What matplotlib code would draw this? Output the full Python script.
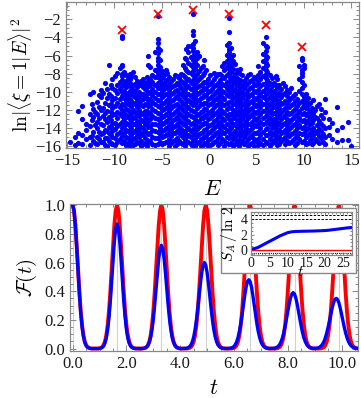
import numpy as np
import matplotlib
matplotlib.use('Agg')
import matplotlib.pyplot as plt
from matplotlib.patches import Rectangle
from matplotlib.ticker import MultipleLocator, FormatStrFormatter

plt.rcParams['font.family'] = ['Liberation Serif', 'DejaVu Serif']
plt.rcParams['mathtext.fontset'] = 'cm'

# ---- top panel: overlaps ln|<xi=1|E>|^2 vs E, one column of dots per energy strip
cloud_cols = [
    (-14.7, [-15.5]),
    (-14.2, [-15.9, -15.0]),
    (-13.8, [-12.1, -14.5, -15.6]),
    (-13.4, [-11.6, -13.0, -14.8, -15.8]),
    (-13.0, [-13.5, -14.2, -15.2]),
    (-12.6, [-10.2, -12.4, -13.8, -15.0, -15.9]),
    (-12.2, [-10.0, -11.9, -12.8, -14.4, -15.4]),
    (-11.8, [-11.1, -12.5, -13.3, -14.0, -15.0, -15.8]),
    (-11.4, [-9.8, -10.6, -12.0, -13.6, -14.7, -15.5]),
    (-11.0, [-9.0, -11.2, -12.3, -13.0, -14.2, -15.1, -15.9]),
    (-10.6, [-7.0, -10.2, -11.5, -12.8, -13.9, -14.6, -15.4]),
    (-10.2, [-8.6, -9.6, -10.9, -11.8, -12.6, -13.5, -14.3, -15.0, -15.8]),
    (-9.7, [-7.9, -9.2, -10.1, -11.2, -12.2, -12.9, -13.8, -14.7, -15.5]),
    (-9.2, [-3.8, -4.1, -7.0, -7.2, -8.0, -8.3, -8.7, -9.4, -10.0, -10.5, -11.4,
            -12.0, -12.7, -13.3, -14.0, -14.9, -15.7]),
    (-8.8, [-8.2, -8.8, -9.5, -10.3, -11.0, -11.9, -12.6, -13.4, -14.2, -15.0, -15.9]),
    (-8.4, [-8.0, -8.6, -9.0, -9.9, -10.8, -11.5, -12.2, -13.0, -13.8, -14.5, -15.3, -16.0]),
    (-8.0, [-7.8, -9.2, -9.8, -10.4, -11.2, -12.0, -12.9, -13.6, -14.4, -15.2, -15.9]),
    (-7.6, [-8.8, -9.5, -10.1, -10.9, -11.7, -12.4, -13.2, -14.0, -14.8, -15.5]),
    (-7.2, [-8.8, -9.3, -10.2, -10.9, -11.5, -12.3, -13.1, -13.9, -14.6, -15.4, -16.0]),
    (-6.8, [-9.0, -9.7, -10.5, -11.3, -12.1, -12.8, -13.6, -14.3, -15.1, -15.8]),
    (-6.4, [-6.0, -7.0, -8.8, -9.4, -10.1, -10.9, -11.6, -12.4, -13.2, -13.9, -14.7, -15.5]),
    (-6.0, [-8.2, -8.9, -9.7, -10.4, -11.1, -11.9, -12.7, -13.5, -14.2, -15.0, -15.8]),
    (-5.45, [-1.6, -4.2, -4.6, -5.2, -5.7, -6.3, -6.6, -7.0, -7.5, -7.9, -8.4, -9.0, -9.6,
             -10.2, -10.9, -11.6, -12.3, -13.0, -13.7, -14.4, -15.1, -15.8]),
    (-5.0, [-7.7, -8.5, -9.2, -9.9, -10.6, -11.3, -12.0, -12.8, -13.5, -14.3, -15.0, -15.8]),
    (-4.6, [-7.6, -8.7, -9.5, -10.3, -11.0, -11.8, -12.5, -13.2, -14.0, -14.8, -15.5]),
    (-4.2, [-8.4, -9.1, -9.8, -10.6, -11.4, -12.1, -12.9, -13.7, -14.4, -15.2, -16.0]),
    (-3.8, [-8.6, -9.4, -10.1, -10.9, -11.6, -12.4, -13.1, -13.9, -14.6, -15.4]),
    (-3.4, [-8.3, -9.0, -9.8, -10.5, -11.3, -12.0, -12.8, -13.5, -14.3, -15.1, -15.8]),
    (-3.0, [-8.0, -8.8, -9.6, -10.3, -11.0, -11.8, -12.6, -13.3, -14.1, -14.8, -15.6]),
    (-2.6, [-6.3, -7.4, -8.4, -9.2, -10.0, -10.7, -11.5, -12.2, -13.0, -13.7, -14.5, -15.3, -16.0]),
    (-2.2, [-5.0, -5.6, -6.8, -7.8, -8.6, -9.4, -10.2, -10.9, -11.7, -12.5, -13.2, -14.0,
            -14.8, -15.5]),
    (-1.72, [-1.4, -3.3, -3.7, -4.7, -5.2, -5.5, -6.0, -6.5, -7.0, -7.3, -7.7, -8.2, -8.7,
             -9.1, -9.7, -10.3, -10.9, -11.5, -12.1, -12.8, -13.4, -14.1, -14.8, -15.4, -16.0]),
    (-1.3, [-5.6, -6.3, -7.1, -8.0, -8.8, -9.5, -10.3, -11.0, -11.8, -12.6, -13.3, -14.1,
            -14.9, -15.6]),
    (-0.9, [-7.4, -8.4, -9.2, -9.9, -10.7, -11.4, -12.2, -12.9, -13.7, -14.5, -15.2, -16.0]),
    (-0.5, [-6.5, -7.9, -8.9, -9.6, -10.4, -11.2, -11.9, -12.7, -13.4, -14.2, -15.0, -15.7]),
    (-0.1, [-8.6, -9.3, -10.0, -10.8, -11.5, -12.3, -13.0, -13.8, -14.6, -15.3, -16.0]),
    (0.3, [-8.9, -9.7, -10.5, -11.2, -12.0, -12.7, -13.5, -14.2, -15.0, -15.8]),
    (0.7, [-8.3, -9.2, -10.0, -10.8, -11.5, -12.3, -13.1, -13.8, -14.6, -15.4]),
    (1.1, [-8.0, -8.7, -9.5, -10.3, -11.0, -11.8, -12.5, -13.3, -14.0, -14.8, -15.6]),
    (1.6, [-6.8, -7.6, -8.5, -9.2, -10.0, -10.8, -11.5, -12.3, -13.1, -13.9, -14.6, -15.4, -16.0]),
    (2.14, [-1.9, -3.4, -4.6, -5.3, -5.6, -5.9, -6.3, -6.8, -7.1, -7.5, -7.9, -8.3, -8.8,
            -9.3, -9.9, -10.5, -11.1, -11.7, -12.4, -13.0, -13.7, -14.4, -15.1, -15.8]),
    (2.5, [-5.9, -6.6, -7.5, -8.4, -9.1, -9.9, -10.7, -11.4, -12.2, -12.9, -13.7, -14.5,
           -15.2, -16.0]),
    (2.9, [-7.6, -8.5, -9.3, -10.1, -10.9, -11.6, -12.4, -13.1, -13.9, -14.7, -15.4]),
    (3.3, [-7.5, -8.7, -9.5, -10.3, -11.1, -11.9, -12.6, -13.4, -14.1, -14.9, -15.7]),
    (3.7, [-8.8, -9.6, -10.4, -11.2, -12.0, -12.7, -13.5, -14.3, -15.0, -15.8]),
    (4.1, [-8.2, -9.0, -9.8, -10.6, -11.4, -12.1, -12.9, -13.6, -14.4, -15.2, -16.0]),
    (4.5, [-8.7, -9.5, -10.2, -11.0, -11.8, -12.5, -13.3, -14.0, -14.8, -15.6]),
    (4.9, [-8.6, -9.3, -10.0, -10.8, -11.6, -12.3, -13.1, -13.8, -14.6, -15.4]),
    (5.4, [-7.8, -8.6, -9.4, -10.2, -11.0, -11.7, -12.5, -13.3, -14.0, -14.8, -15.6]),
    (5.94, [-4.0, -4.9, -5.5, -6.0, -6.4, -6.8, -7.2, -7.6, -8.0, -8.5, -9.0, -9.6, -10.2,
            -10.8, -11.4, -12.0, -12.7, -13.4, -14.1, -14.8, -15.5]),
    (6.4, [-8.2, -9.0, -9.8, -10.6, -11.3, -12.1, -12.9, -13.6, -14.4, -15.2, -16.0]),
    (6.8, [-9.0, -9.9, -10.7, -11.5, -12.3, -13.0, -13.8, -14.5, -15.3]),
    (7.2, [-8.6, -9.6, -10.5, -11.3, -12.1, -12.9, -13.7, -14.4, -15.2, -15.9]),
    (7.6, [-9.7, -10.6, -11.4, -12.2, -13.0, -13.8, -14.6, -15.4]),
    (8.0, [-9.4, -10.1, -11.0, -11.8, -12.6, -13.4, -14.2, -15.0, -15.8]),
    (8.4, [-10.0, -10.9, -11.7, -12.5, -13.3, -14.1, -14.9, -15.6]),
    (8.8, [-10.5, -11.3, -12.1, -12.9, -13.7, -14.5, -15.3]),
    (9.25, [-10.8, -11.6, -12.4, -13.2, -14.0, -14.8, -15.6]),
    (9.74, [-6.3, -6.5, -7.6, -7.9, -8.3, -8.9, -9.6, -10.3, -11.0, -11.8, -12.5, -13.2,
            -14.0, -14.7, -15.5]),
    (10.2, [-10.2, -11.0, -11.8, -12.6, -13.4, -14.2, -15.0, -15.8]),
    (10.6, [-11.2, -12.0, -12.8, -13.6, -14.5, -15.3]),
    (11.0, [-10.9, -12.3, -13.1, -14.0, -14.8, -15.6]),
    (11.4, [-11.6, -12.9, -13.7, -14.6, -15.4]),
    (11.8, [-11.9, -12.6, -13.5, -14.3, -15.1]),
    (12.2, [-10.8, -12.2, -14.0, -15.0, -15.8]),
    (12.6, [-13.0, -13.9, -14.8]),
    (13.0, [-13.4, -15.2]),
    (13.5, [-11.7, -14.2, -15.5]),
    (14.0, [-13.9, -15.3]),
    (14.6, [-13.3, -15.3]),
    (15.0, [-16.0]),
]
# second, interleaved set of strips (fills the dense middle of the cloud)
cloud_cols_mid = [
    (-12.4, [-11.3, -13.1, -14.9]),
    (-12.0, [-12.2, -13.7, -15.6]),
    (-11.6, [-10.4, -11.7, -12.9, -14.4, -15.2]),
    (-11.2, [-10.1, -11.8, -12.7, -13.7, -14.6, -15.5]),
    (-10.8, [-9.7, -10.7, -12.1, -13.3, -14.3, -15.1, -16.0]),
    (-10.4, [-9.2, -10.5, -11.3, -12.2, -13.1, -13.9, -14.8, -15.6]),
    (-9.95, [-8.3, -9.8, -10.7, -11.6, -12.5, -13.4, -14.1, -15.1, -15.9]),
    (-9.45, [-7.4, -8.9, -9.7, -10.8, -11.7, -12.4, -13.6, -14.4, -15.2]),
    (-9.0, [-7.8, -9.1, -9.9, -10.7, -11.5, -12.3, -13.0, -13.8, -14.6, -15.4]),
    (-8.6, [-8.4, -9.3, -10.1, -10.6, -11.3, -12.0, -12.8, -13.5, -14.3, -15.1, -15.7]),
    (-8.2, [-8.3, -9.5, -10.2, -11.0, -11.6, -12.4, -13.3, -14.0, -14.8, -15.6]),
    (-7.8, [-8.4, -9.1, -9.9, -10.6, -11.4, -12.2, -12.8, -13.6, -14.3, -15.1, -15.8]),
    (-7.4, [-9.2, -10.0, -10.5, -11.2, -12.0, -12.7, -13.5, -14.3, -15.0, -15.7]),
    (-7.0, [-8.6, -9.5, -10.2, -10.8, -11.6, -12.4, -13.2, -14.0, -14.8, -15.6]),
    (-6.6, [-8.4, -9.2, -9.9, -10.7, -11.4, -12.1, -13.0, -13.7, -14.5, -15.3, -16.0]),
    (-6.2, [-7.3, -8.6, -9.3, -10.0, -10.8, -11.5, -12.3, -13.0, -13.8, -14.6, -15.4]),
    (-5.75, [-5.6, -7.6, -8.4, -9.3, -10.0, -10.7, -11.4, -12.1, -12.9, -13.6, -14.3, -15.1,
             -15.9]),
    (-5.2, [-5.4, -6.5, -7.3, -8.1, -8.8, -9.6, -10.3, -11.0, -11.7, -12.5, -13.2, -14.0,
            -14.7, -15.5]),
    (-4.8, [-8.1, -9.0, -9.7, -10.4, -11.2, -11.9, -12.7, -13.4, -14.2, -14.9, -15.7]),
    (-4.4, [-7.9, -8.7, -9.4, -10.2, -10.9, -11.7, -12.4, -13.2, -14.0, -14.7, -15.5]),
    (-4.0, [-8.8, -9.5, -10.3, -11.0, -11.8, -12.6, -13.4, -14.1, -14.9, -15.7]),
    (-3.6, [-8.1, -9.2, -9.9, -10.7, -11.5, -12.2, -13.0, -13.8, -14.5, -15.3, -16.0]),
    (-3.2, [-8.5, -9.3, -10.1, -10.8, -11.6, -12.3, -13.1, -13.9, -14.6, -15.4]),
    (-2.8, [-7.1, -8.2, -9.0, -9.8, -10.5, -11.3, -12.0, -12.8, -13.5, -14.3, -15.0, -15.8]),
    (-2.4, [-5.3, -6.4, -7.6, -8.8, -9.6, -10.4, -11.1, -11.9, -12.7, -13.4, -14.2, -15.0,
            -15.7]),
    (-1.95, [-4.9, -6.2, -7.1, -7.9, -8.9, -9.7, -10.5, -11.2, -12.0, -12.7, -13.5, -14.3,
             -15.0, -15.8]),
    (-1.5, [-4.4, -5.8, -6.7, -7.5, -8.4, -9.2, -9.9, -10.7, -11.4, -12.2, -13.0, -13.7,
            -14.5, -15.2, -16.0]),
    (-1.1, [-6.0, -7.7, -8.6, -9.4, -10.1, -10.9, -11.6, -12.4, -13.2, -13.9, -14.7, -15.5]),
    (-0.7, [-7.2, -8.2, -9.0, -9.8, -10.6, -11.3, -12.1, -12.9, -13.6, -14.4, -15.1, -15.9]),
    (-0.3, [-7.6, -8.9, -9.7, -10.4, -11.2, -11.9, -12.6, -13.4, -14.1, -14.9, -15.6]),
    (0.1, [-8.2, -9.1, -9.9, -10.7, -11.4, -12.2, -12.9, -13.7, -14.4, -15.2, -15.9]),
    (0.5, [-7.9, -8.6, -9.4, -10.2, -10.9, -11.7, -12.5, -13.2, -14.0, -14.8, -15.5]),
    (0.9, [-8.0, -9.0, -9.8, -10.6, -11.3, -12.1, -12.8, -13.6, -14.4, -15.1, -15.9]),
    (1.35, [-7.2, -8.3, -9.1, -9.9, -10.6, -11.4, -12.1, -12.9, -13.7, -14.4, -15.2]),
    (1.85, [-4.8, -5.9, -6.6, -7.3, -8.1, -8.9, -9.6, -10.4, -11.2, -11.9, -12.7, -13.5,
            -14.2, -15.0, -15.7]),
    (2.35, [-5.2, -6.3, -7.0, -7.8, -8.7, -9.5, -10.3, -11.0, -11.8, -12.5, -13.3, -14.0,
            -14.8, -15.6]),
    (2.7, [-6.9, -8.0, -8.8, -9.7, -10.5, -11.2, -12.0, -12.7, -13.5, -14.3, -15.0, -15.8]),
    (3.1, [-7.9, -9.0, -9.8, -10.6, -11.4, -12.2, -13.0, -13.7, -14.5, -15.3, -16.0]),
    (3.5, [-8.2, -9.2, -10.0, -10.7, -11.5, -12.3, -13.0, -13.8, -14.6, -15.4]),
    (3.9, [-8.5, -9.3, -10.1, -10.9, -11.7, -12.4, -13.2, -14.0, -14.7, -15.5]),
    (4.3, [-8.0, -8.8, -9.6, -10.4, -11.1, -11.9, -12.7, -13.5, -14.2, -15.0, -15.8]),
    (4.7, [-8.4, -9.1, -9.9, -10.7, -11.4, -12.2, -12.9, -13.7, -14.5, -15.2, -16.0]),
    (5.15, [-7.2, -8.2, -9.0, -9.8, -10.6, -11.4, -12.1, -12.9, -13.6, -14.4, -15.2, -15.9]),
    (5.7, [-4.6, -5.8, -6.6, -7.4, -8.3, -9.1, -9.9, -10.6, -11.3, -12.1, -12.9, -13.6,
           -14.4, -15.2, -15.9]),
    (6.15, [-5.1, -6.2, -7.0, -7.8, -8.7, -9.4, -10.1, -10.9, -11.7, -12.5, -13.2, -14.0,
            -14.8, -15.6]),
    (6.6, [-8.5, -9.4, -10.2, -11.0, -11.8, -12.5, -13.3, -14.0, -14.8, -15.6]),
    (7.0, [-8.3, -9.3, -10.1, -10.9, -11.7, -12.5, -13.3, -14.1, -14.9, -15.7]),
    (7.4, [-9.2, -10.1, -11.0, -11.8, -12.6, -13.4, -14.2, -15.0, -15.8]),
    (7.8, [-9.0, -10.3, -11.2, -12.0, -12.8, -13.6, -14.4, -15.2]),
    (8.2, [-9.8, -10.5, -11.4, -12.2, -13.0, -13.8, -14.6, -15.4]),
    (8.6, [-9.6, -10.7, -11.5, -12.3, -13.1, -13.9, -14.7, -15.5]),
    (9.0, [-10.2, -11.0, -11.9, -12.7, -13.5, -14.3, -15.1, -15.9]),
    (9.5, [-7.2, -8.6, -9.9, -11.2, -12.1, -12.9, -13.7, -14.5, -15.2]),
    (9.95, [-7.0, -7.4, -9.2, -10.6, -11.5, -12.3, -13.1, -13.9, -14.6, -15.4]),
    (10.4, [-10.7, -11.5, -12.3, -13.1, -14.0, -14.8, -15.6]),
    (10.8, [-11.8, -12.6, -13.4, -14.2, -15.0, -15.8]),
    (11.2, [-12.0, -12.8, -14.3, -15.2]),
    (11.6, [-11.3, -13.2, -14.1, -14.9, -15.7]),
    (12.0, [-12.9, -13.8, -14.7, -15.5]),
]
cross_E = [-9.2, -5.45, -1.72, 2.14, 5.94, 9.74]
cross_lnp = [-3.2, -1.45, -0.93, -1.45, -2.66, -5.06]

# ---- bottom panel: fidelity sampled every 0.05 in t
t_step = 0.05
fid_red = [
    1.0, 0.963, 0.862, 0.715, 0.55, 0.393, 0.261, 0.161, 0.092, 0.049, 0.024, 0.011, 0.005, 0.002,
    0, 0, 0, 0, 0, 0,
    0.002, 0.005, 0.011, 0.024, 0.049, 0.092, 0.161, 0.261, 0.393, 0.55, 0.715, 0.862, 0.963,
    1.0, 0.963, 0.862, 0.715, 0.55, 0.393, 0.261, 0.161, 0.092, 0.049, 0.024, 0.011, 0.005, 0.002,
    0, 0, 0, 0, 0, 0,
    0.002, 0.005, 0.011, 0.024, 0.049, 0.092, 0.161, 0.261, 0.393, 0.55, 0.715, 0.862, 0.963,
    1.0, 0.963, 0.862, 0.715, 0.55, 0.393, 0.261, 0.161, 0.092, 0.049, 0.024, 0.011, 0.005, 0.002,
    0, 0, 0, 0, 0, 0,
    0.002, 0.005, 0.011, 0.024, 0.049, 0.092, 0.161, 0.261, 0.393, 0.55, 0.715, 0.862, 0.963,
    1.0, 0.963, 0.862, 0.715, 0.55, 0.393, 0.261, 0.161, 0.092, 0.049, 0.024, 0.011, 0.005, 0.002,
    0, 0, 0, 0, 0, 0,
    0.002, 0.005, 0.011, 0.024, 0.049, 0.092, 0.161, 0.261, 0.393, 0.55, 0.715, 0.862, 0.963,
    1.0, 0.963, 0.862, 0.715, 0.55, 0.393, 0.261, 0.161, 0.092, 0.049, 0.024, 0.011, 0.005, 0.002,
    0, 0, 0, 0, 0, 0,
    0.002, 0.005, 0.011, 0.024, 0.049, 0.092, 0.161, 0.261, 0.393, 0.55, 0.715, 0.862, 0.963,
    1.0, 0.963, 0.862, 0.715, 0.55, 0.393, 0.261, 0.161, 0.092, 0.049, 0.024, 0.011, 0.005, 0.002,
    0, 0, 0, 0, 0, 0,
    0.002, 0.005, 0.011, 0.024, 0.049, 0.092, 0.161, 0.261, 0.393, 0.55, 0.715, 0.862, 0.963,
    1.0, 0.963, 0.862, 0.715, 0.55, 0.393, 0.261, 0.161, 0.092, 0.049, 0.024, 0.011, 0.005, 0.002,
    0,
]
fid_blue = [
    1.0, 0.962, 0.857, 0.707, 0.539, 0.381, 0.249, 0.151, 0.085, 0.044, 0.021, 0.009, 0.004, 0.001,
    0, 0, 0, 0, 0, 0,
    0.001, 0.003, 0.008, 0.018, 0.038, 0.074, 0.131, 0.217, 0.331, 0.469, 0.615, 0.746, 0.837,
    0.870, 0.837, 0.746, 0.615, 0.469, 0.331, 0.217, 0.131, 0.074, 0.038, 0.018, 0.008, 0.003, 0.001,
    0, 0, 0, 0, 0,
    0.001, 0.002, 0.005, 0.011, 0.023, 0.044, 0.078, 0.132, 0.207, 0.303, 0.414, 0.527, 0.627, 0.696,
    0.720, 0.696, 0.627, 0.527, 0.414, 0.303, 0.207, 0.132, 0.078, 0.044, 0.023, 0.011, 0.005, 0.002, 0.001,
    0, 0,
    0.001, 0.001, 0.003, 0.007, 0.014, 0.026, 0.048, 0.081, 0.130, 0.195, 0.275, 0.364, 0.453, 0.529, 0.581,
    0.600, 0.581, 0.529, 0.453, 0.364, 0.275, 0.195, 0.130, 0.081, 0.048, 0.026, 0.014, 0.007, 0.003, 0.001, 0.001,
    0, 0,
    0.001, 0.002, 0.004, 0.008, 0.015, 0.028, 0.048, 0.078, 0.120, 0.173, 0.236, 0.305, 0.372, 0.429, 0.467,
    0.480, 0.467, 0.429, 0.372, 0.305, 0.236, 0.173, 0.120, 0.078, 0.048, 0.028, 0.015, 0.008, 0.004, 0.002, 0.001,
    0,
    0.001, 0.001, 0.002, 0.005, 0.009, 0.017, 0.029, 0.048, 0.074, 0.110, 0.154, 0.204, 0.258, 0.309, 0.352, 0.380,
    0.390, 0.380, 0.352, 0.309, 0.258, 0.204, 0.154, 0.110, 0.074, 0.048, 0.029, 0.017, 0.009, 0.005, 0.002, 0.001,
    0.002,
    0.002, 0.003, 0.006, 0.012, 0.020, 0.033, 0.051, 0.077, 0.110, 0.149, 0.194, 0.240, 0.283, 0.319, 0.342,
    0.350, 0.342, 0.319, 0.283, 0.240, 0.194, 0.149, 0.110, 0.077, 0.051, 0.033, 0.020, 0.012, 0.006, 0.003, 0.002, 0.001,
]
revival_t = [0.0, 1.65, 3.3, 4.95, 6.6, 8.25, 9.9]

# ---- inset: entanglement entropy
ent_t = list(range(28))
ent_blue = [0.15, 0.2, 0.35, 0.6, 0.85, 1.1, 1.35, 1.6, 1.85, 2.05, 2.25, 2.35, 2.4, 2.42,
            2.43, 2.44, 2.45, 2.46, 2.48, 2.5, 2.52, 2.56, 2.62, 2.68, 2.74, 2.8, 2.86, 2.9]
ent_red_level = 0.0
ent_dashed_levels = [4.04, 4.47]
ent_dotted_level = -0.4

W, H = 361, 398
FRAME = '#888888'


def fig_rect(x0, y0, x1, y1):
    # pixel box (top-left origin) -> figure fraction rect
    return [x0 / W, 1 - y1 / H, (x1 - x0) / W, (y1 - y0) / H]


def style(ax, size):
    for sp in ax.spines.values():
        sp.set_color(FRAME)
        sp.set_linewidth(0.9)
    ax.tick_params(which='both', direction='in', top=True, right=True,
                   color=FRAME, labelsize=size, labelcolor='#1a1a1a', width=0.7)
    ax.tick_params(which='major', length=4)
    ax.tick_params(which='minor', length=2)


fig = plt.figure(figsize=(W / 100, H / 100), dpi=100)

ax1 = fig.add_axes(fig_rect(66, 2, 359, 148))
all_cols = cloud_cols + cloud_cols_mid
E_pts = [e for e, ys in all_cols for _ in ys]
lnp_pts = [y for e, ys in all_cols for y in ys]
ax1.scatter(E_pts, lnp_pts, s=14, color='#0000ff', linewidths=0, zorder=2)
ax1.plot(cross_E, cross_lnp, 'x', color='#ff0000', ms=6, mew=1.3, zorder=3)
ax1.set_xlim(-15.1, 15.8)
ax1.set_ylim(-16.2, -0.1)
ax1.xaxis.set_major_locator(MultipleLocator(5))
ax1.xaxis.set_minor_locator(MultipleLocator(1))
ax1.yaxis.set_major_locator(MultipleLocator(2))
ax1.yaxis.set_minor_locator(MultipleLocator(0.5))
style(ax1, 12)
ax1.set_xlabel(r'$E$', fontsize=16, labelpad=9)
ax1.set_ylabel(r'$\ln|\langle\xi=1|E\rangle|^2$', fontsize=14, labelpad=1)

ax2 = fig.add_axes(fig_rect(70, 204.5, 357.7, 350.7))
for tr in revival_t:
    ax2.axvline(tr, color='#d0d0d0', lw=0.8, zorder=1)
t_red = t_step * np.arange(len(fid_red))
t_blue = t_step * np.arange(len(fid_blue))
ax2.plot(t_red, fid_red, color='#ff0000', lw=2.8, zorder=2)
ax2.plot(t_blue, fid_blue, color='#0000ff', lw=2.4, zorder=3)
ax2.set_xlim(-0.1, 10.6)
ax2.set_ylim(-0.015, 1.005)
ax2.xaxis.set_major_locator(MultipleLocator(2))
ax2.xaxis.set_minor_locator(MultipleLocator(0.5))
ax2.yaxis.set_major_locator(MultipleLocator(0.2))
ax2.yaxis.set_minor_locator(MultipleLocator(0.05))
ax2.xaxis.set_major_formatter(FormatStrFormatter('%.1f'))
ax2.yaxis.set_major_formatter(FormatStrFormatter('%.1f'))
style(ax2, 12)
ax2.set_xlabel(r'$t$', fontsize=16, labelpad=6)
ax2.set_ylabel(r'$\mathcal{F}(t)$', fontsize=15, labelpad=4)

box = Rectangle((221 / W, 1 - 273.3 / H), (355.5 - 221) / W, (273.3 - 208.3) / H,
                transform=fig.transFigure, facecolor='white', edgecolor=FRAME,
                lw=1.0, zorder=5)
fig.patches.append(box)

ax3 = fig.add_axes(fig_rect(250.5, 212, 351.5, 254.5))
ax3.set_zorder(6)
ax3.axhline(ent_red_level, color='#ff0000', lw=1.0)
for lv in ent_dashed_levels:
    ax3.axhline(lv, color='black', lw=0.7, ls=(0, (2.5, 1.5)))
ax3.axhline(ent_dotted_level, color='black', lw=0.7, ls=(0, (1, 1.2)))
ax3.plot(ent_t, ent_blue, color='#0000ff', lw=2.2)
ax3.set_xlim(0, 27.2)
ax3.set_ylim(-0.55, 4.9)
ax3.xaxis.set_major_locator(MultipleLocator(5))
ax3.xaxis.set_minor_locator(MultipleLocator(1))
ax3.yaxis.set_major_locator(MultipleLocator(2))
ax3.yaxis.set_minor_locator(MultipleLocator(0.5))
style(ax3, 10)
ax3.tick_params(which='major', length=2.5, pad=2)
ax3.tick_params(which='minor', length=1.3)
ax3.set_xlabel(r'$t$', fontsize=11, labelpad=-4)
ax3.set_ylabel(r'$S_A\,/\,\ln\,2$', fontsize=11, labelpad=1)

fig.savefig('out.png', dpi=100)
